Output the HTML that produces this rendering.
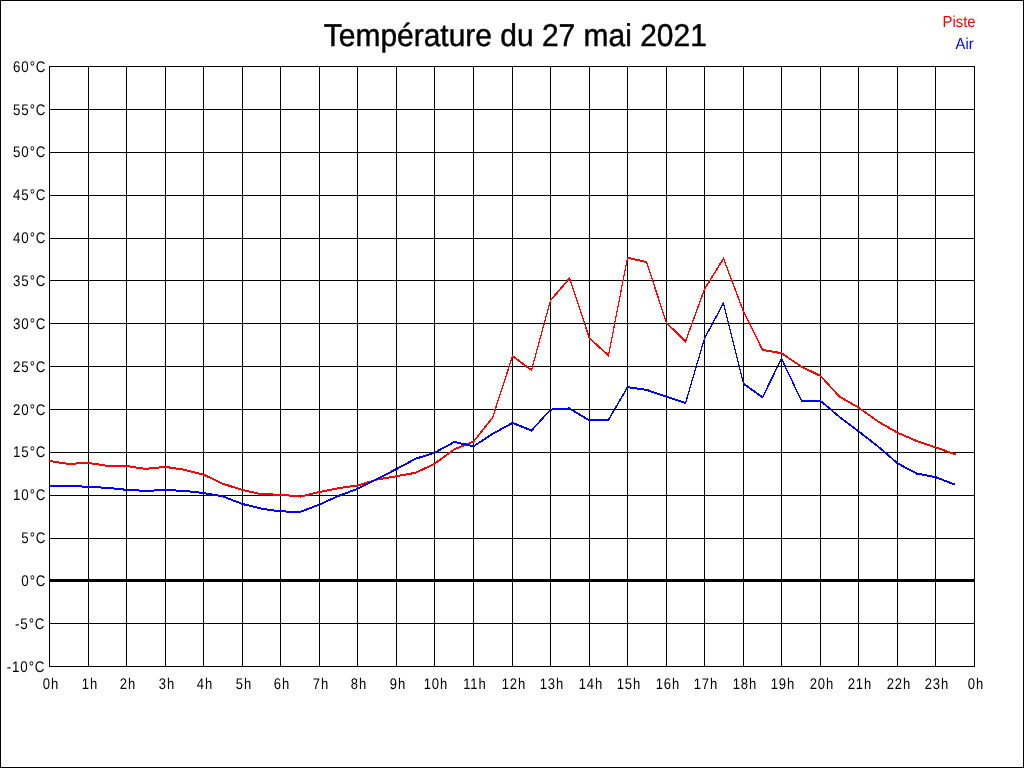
<!DOCTYPE html>
<html><head><meta charset="utf-8"><style>
html,body{margin:0;padding:0;background:#fff;}
body{width:1024px;height:768px;overflow:hidden;position:relative;}
svg{position:absolute;left:0;top:0;will-change:transform;}
text{font-family:"Liberation Sans",sans-serif;text-rendering:geometricPrecision;}
</style></head><body>
<svg width="1024" height="768" viewBox="0 0 1024 768">
<rect x="0" y="0" width="1024" height="768" fill="#fff"/>
<g fill="#000" shape-rendering="crispEdges">
<rect x="0" y="0" width="1024" height="1"/>
<rect x="0" y="767" width="1024" height="1"/>
<rect x="0" y="0" width="1" height="768"/>
<rect x="1023" y="0" width="1" height="768"/>
<rect x="49" y="66" width="1" height="601"/>
<rect x="88" y="66" width="1" height="601"/>
<rect x="126" y="66" width="1" height="601"/>
<rect x="165" y="66" width="1" height="601"/>
<rect x="203" y="66" width="1" height="601"/>
<rect x="242" y="66" width="1" height="601"/>
<rect x="280" y="66" width="1" height="601"/>
<rect x="319" y="66" width="1" height="601"/>
<rect x="357" y="66" width="1" height="601"/>
<rect x="396" y="66" width="1" height="601"/>
<rect x="434" y="66" width="1" height="601"/>
<rect x="473" y="66" width="1" height="601"/>
<rect x="512" y="66" width="1" height="601"/>
<rect x="550" y="66" width="1" height="601"/>
<rect x="589" y="66" width="1" height="601"/>
<rect x="627" y="66" width="1" height="601"/>
<rect x="666" y="66" width="1" height="601"/>
<rect x="704" y="66" width="1" height="601"/>
<rect x="743" y="66" width="1" height="601"/>
<rect x="781" y="66" width="1" height="601"/>
<rect x="820" y="66" width="1" height="601"/>
<rect x="858" y="66" width="1" height="601"/>
<rect x="897" y="66" width="1" height="601"/>
<rect x="935" y="66" width="1" height="601"/>
<rect x="974" y="66" width="1" height="601"/>
<rect x="49" y="66" width="926" height="1"/>
<rect x="49" y="109" width="926" height="1"/>
<rect x="49" y="152" width="926" height="1"/>
<rect x="49" y="195" width="926" height="1"/>
<rect x="49" y="238" width="926" height="1"/>
<rect x="49" y="280" width="926" height="1"/>
<rect x="49" y="323" width="926" height="1"/>
<rect x="49" y="366" width="926" height="1"/>
<rect x="49" y="409" width="926" height="1"/>
<rect x="49" y="452" width="926" height="1"/>
<rect x="49" y="495" width="926" height="1"/>
<rect x="49" y="538" width="926" height="1"/>
<rect x="49" y="579" width="926" height="3"/>
<rect x="49" y="623" width="926" height="1"/>
<rect x="49" y="666" width="926" height="1"/>
</g>
<g fill="none" stroke-width="1" stroke-linejoin="miter" shape-rendering="crispEdges">
<polyline stroke="#ff0000" points="49.5,460.5 68.5,463.4 88.5,462.4 107.5,465.4 126.5,465.5 145.5,468.4 165.5,466.4 184.5,469.3 203.5,474.1 222.5,483.1 242.5,489.5 261.5,493.7 280.5,494.2 300.5,496.1 319.5,491.5 338.5,487.7 357.5,485.0 377.5,478.9 396.5,475.7 415.5,472.3 434.5,463.3 454.5,448.7 473.5,441.1 492.5,417.3 512.5,355.6 531.5,369.6 550.5,299.9 569.5,277.8 589.5,337.9 608.5,354.9 627.5,257.2 646.5,261.6 666.5,322.3 685.5,341.0 704.5,288.7 723.5,258.0 743.5,311.0 762.5,349.4 781.5,352.7 801.5,366.2 820.5,375.4 839.5,396.1 858.5,407.0 878.5,421.3 897.5,432.2 916.5,440.4 935.5,446.8 955.5,453.9"/>
<polyline stroke="#ff0000" points="49.5,461.5 68.5,464.4 88.5,463.4 107.5,466.4 126.5,466.5 145.5,469.4 165.5,467.4 184.5,470.3 203.5,475.1 222.5,484.1 242.5,490.5 261.5,494.7 280.5,495.2 300.5,497.1 319.5,492.5 338.5,488.7 357.5,486.0 377.5,479.9 396.5,476.7 415.5,473.3 434.5,464.3 454.5,449.7 473.5,442.1 492.5,418.3 512.5,356.6 531.5,370.6 550.5,300.9 569.5,278.8 589.5,338.9 608.5,355.9 627.5,258.2 646.5,262.6 666.5,323.3 685.5,342.0 704.5,289.7 723.5,259.0 743.5,312.0 762.5,350.4 781.5,353.7 801.5,367.2 820.5,376.4 839.5,397.1 858.5,408.0 878.5,422.3 897.5,433.2 916.5,441.4 935.5,447.8 955.5,454.9"/>
<polyline stroke="#0000ff" points="49.5,485.4 68.5,485.4 88.5,486.3 107.5,487.4 126.5,489.3 145.5,490.4 165.5,489.5 184.5,490.4 203.5,492.5 222.5,495.8 242.5,503.5 261.5,508.2 280.5,510.9 300.5,511.3 319.5,504.0 338.5,495.4 357.5,488.4 377.5,478.2 396.5,468.5 415.5,458.3 434.5,452.2 454.5,441.4 473.5,445.8 492.5,433.4 512.5,422.4 531.5,430.0 550.5,409.1 569.5,407.9 589.5,420.0 608.5,419.3 627.5,386.7 646.5,389.3 666.5,396.3 685.5,402.6 704.5,337.9 723.5,302.6 743.5,383.2 762.5,396.8 781.5,358.2 801.5,400.3 820.5,400.3 839.5,416.5 858.5,430.8 878.5,446.3 897.5,462.8 916.5,473.0 935.5,476.6 955.5,484.3"/>
<polyline stroke="#0000ff" points="49.5,486.4 68.5,486.4 88.5,487.3 107.5,488.4 126.5,490.3 145.5,491.4 165.5,490.5 184.5,491.4 203.5,493.5 222.5,496.8 242.5,504.5 261.5,509.2 280.5,511.9 300.5,512.3 319.5,505.0 338.5,496.4 357.5,489.4 377.5,479.2 396.5,469.5 415.5,459.3 434.5,453.2 454.5,442.4 473.5,446.8 492.5,434.4 512.5,423.4 531.5,431.0 550.5,410.1 569.5,408.9 589.5,421.0 608.5,420.3 627.5,387.7 646.5,390.3 666.5,397.3 685.5,403.6 704.5,338.9 723.5,303.6 743.5,384.2 762.5,397.8 781.5,359.2 801.5,401.3 820.5,401.3 839.5,417.5 858.5,431.8 878.5,447.3 897.5,463.8 916.5,474.0 935.5,477.6 955.5,485.3"/>
</g>
<g font-size="15.0" letter-spacing="1.0" fill="#000">
<text x="0" y="0" transform="translate(46.40,71.90) scale(0.890,1.030)" text-anchor="end">60°C</text>
<text x="0" y="0" transform="translate(46.40,114.90) scale(0.890,1.030)" text-anchor="end">55°C</text>
<text x="0" y="0" transform="translate(46.40,156.90) scale(0.890,1.030)" text-anchor="end">50°C</text>
<text x="0" y="0" transform="translate(46.40,199.90) scale(0.890,1.030)" text-anchor="end">45°C</text>
<text x="0" y="0" transform="translate(46.40,242.90) scale(0.890,1.030)" text-anchor="end">40°C</text>
<text x="0" y="0" transform="translate(46.40,285.90) scale(0.890,1.030)" text-anchor="end">35°C</text>
<text x="0" y="0" transform="translate(46.40,328.90) scale(0.890,1.030)" text-anchor="end">30°C</text>
<text x="0" y="0" transform="translate(46.40,371.90) scale(0.890,1.030)" text-anchor="end">25°C</text>
<text x="0" y="0" transform="translate(46.40,414.90) scale(0.890,1.030)" text-anchor="end">20°C</text>
<text x="0" y="0" transform="translate(46.40,456.90) scale(0.890,1.030)" text-anchor="end">15°C</text>
<text x="0" y="0" transform="translate(46.40,499.90) scale(0.890,1.030)" text-anchor="end">10°C</text>
<text x="0" y="0" transform="translate(46.40,542.90) scale(0.890,1.030)" text-anchor="end">5°C</text>
<text x="0" y="0" transform="translate(46.40,585.90) scale(0.890,1.030)" text-anchor="end">0°C</text>
<text x="0" y="0" transform="translate(45.40,628.90) scale(0.890,1.030)" text-anchor="end">-5°C</text>
<text x="0" y="0" transform="translate(45.40,671.90) scale(0.890,1.030)" text-anchor="end">-10°C</text>
<text x="0" y="0" transform="translate(50.90,688.80) scale(0.870,1.030)" text-anchor="middle">0h</text>
<text x="0" y="0" transform="translate(89.90,688.80) scale(0.870,1.030)" text-anchor="middle">1h</text>
<text x="0" y="0" transform="translate(127.90,688.80) scale(0.870,1.030)" text-anchor="middle">2h</text>
<text x="0" y="0" transform="translate(166.90,688.80) scale(0.870,1.030)" text-anchor="middle">3h</text>
<text x="0" y="0" transform="translate(204.90,688.80) scale(0.870,1.030)" text-anchor="middle">4h</text>
<text x="0" y="0" transform="translate(243.90,688.80) scale(0.870,1.030)" text-anchor="middle">5h</text>
<text x="0" y="0" transform="translate(281.90,688.80) scale(0.870,1.030)" text-anchor="middle">6h</text>
<text x="0" y="0" transform="translate(320.90,688.80) scale(0.870,1.030)" text-anchor="middle">7h</text>
<text x="0" y="0" transform="translate(358.90,688.80) scale(0.870,1.030)" text-anchor="middle">8h</text>
<text x="0" y="0" transform="translate(397.90,688.80) scale(0.870,1.030)" text-anchor="middle">9h</text>
<text x="0" y="0" transform="translate(435.90,688.80) scale(0.870,1.030)" text-anchor="middle">10h</text>
<text x="0" y="0" transform="translate(474.90,688.80) scale(0.870,1.030)" text-anchor="middle">11h</text>
<text x="0" y="0" transform="translate(513.90,688.80) scale(0.870,1.030)" text-anchor="middle">12h</text>
<text x="0" y="0" transform="translate(551.90,688.80) scale(0.870,1.030)" text-anchor="middle">13h</text>
<text x="0" y="0" transform="translate(590.90,688.80) scale(0.870,1.030)" text-anchor="middle">14h</text>
<text x="0" y="0" transform="translate(628.90,688.80) scale(0.870,1.030)" text-anchor="middle">15h</text>
<text x="0" y="0" transform="translate(667.90,688.80) scale(0.870,1.030)" text-anchor="middle">16h</text>
<text x="0" y="0" transform="translate(705.90,688.80) scale(0.870,1.030)" text-anchor="middle">17h</text>
<text x="0" y="0" transform="translate(744.90,688.80) scale(0.870,1.030)" text-anchor="middle">18h</text>
<text x="0" y="0" transform="translate(782.90,688.80) scale(0.870,1.030)" text-anchor="middle">19h</text>
<text x="0" y="0" transform="translate(821.90,688.80) scale(0.870,1.030)" text-anchor="middle">20h</text>
<text x="0" y="0" transform="translate(859.90,688.80) scale(0.870,1.030)" text-anchor="middle">21h</text>
<text x="0" y="0" transform="translate(898.90,688.80) scale(0.870,1.030)" text-anchor="middle">22h</text>
<text x="0" y="0" transform="translate(936.90,688.80) scale(0.870,1.030)" text-anchor="middle">23h</text>
<text x="0" y="0" transform="translate(975.90,688.80) scale(0.870,1.030)" text-anchor="middle">0h</text>
</g>
<text x="0" y="0" transform="translate(323.8,46) scale(0.951,1)" font-size="31.5" fill="#000" stroke="#000" stroke-width="0.45">Température du 27 mai 2021</text>
<g font-size="16" text-anchor="end">
<text x="0" y="0" transform="translate(975.6,27.2) scale(0.93,0.99)" fill="#ff0000">Piste</text>
<text x="0" y="0" transform="translate(973.6,49.2) scale(0.92,0.99)" fill="#0000ff">Air</text>
</g>
</svg>
</body></html>
